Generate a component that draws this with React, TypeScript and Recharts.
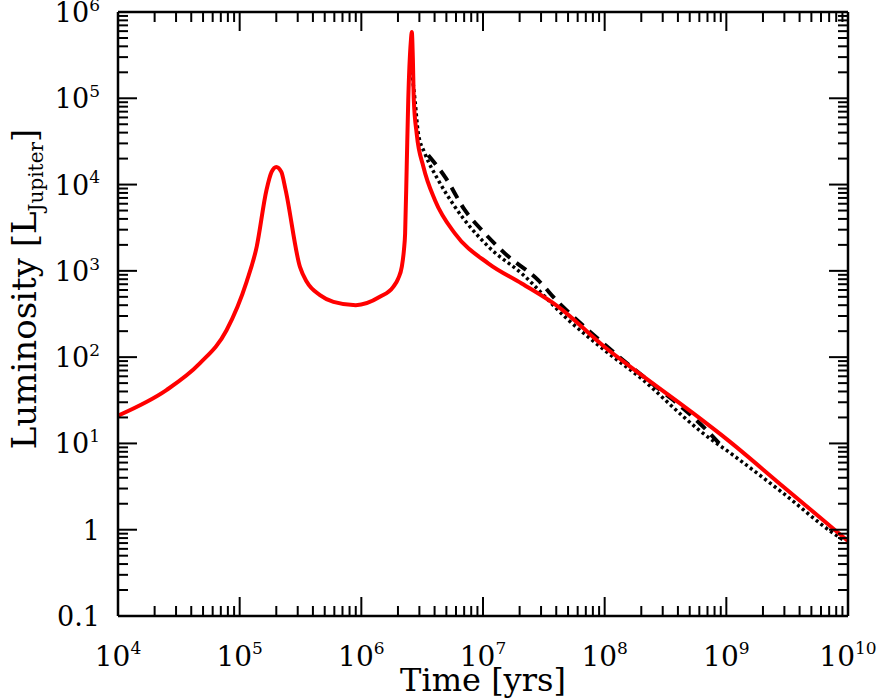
import React from 'react';
import { LineChart, Line, XAxis, YAxis } from 'recharts';

type Pt = { t: number; L: number };

// red: full evolution track
const redTime = [
  1e4, 2.5e4, 4.7e4, 7.8e4, 1.14e5, 1.38e5, 1.66e5, 1.83e5, 2.0e5, 2.2e5, 2.38e5,
  3.13e5, 3.56e5, 4.57e5, 5.9e5, 9.0e5, 1.42e6, 1.83e6, 2.01e6, 2.15e6, 2.24e6,
  2.29e6, 2.36e6, 2.43e6, 2.55e6, 2.6e6, 2.65e6, 2.7e6, 2.85e6, 3.24e6, 4.03e6, 5.89e6,
  1.11e7, 2.08e7, 4.17e7, 1e8, 1.95e8, 6.07e8, 1e9, 2.94e9, 1e10,
];
const redLum = [
  21, 41.5, 84.5, 205, 746, 1900, 8600, 14000, 16000, 14000, 8800,
  1110, 746, 523, 437, 400, 500, 653, 817, 1110, 1750,
  2700, 16000, 95000, 450000, 586000, 300000, 95000, 39000, 16000, 6600, 2700,
  1215, 714, 383, 131, 64, 19.5, 11.3, 3.15, 0.74,
];

// dashed black
const dashTime = [3.55e6, 4.87e6, 7.1e6, 1.04e7, 1.52e7, 2.84e7, 4.17e7, 5.19e7, 7.6e7, 1.42e8, 2.67e8, 3.66e8, 6.88e8, 9.44e8];
const dashLum = [21900, 12300, 5050, 2700, 1585, 780, 430, 320, 196, 92, 45, 31.8, 14.3, 8.9];

// dotted black
const dotTime = [2.6e6, 2.76e6, 2.94e6, 3.33e6, 4.3e6, 5.89e6, 1.11e7, 2.08e7, 4.87e7, 1e8, 2.08e8, 4.44e8, 6.07e8, 1.14e9, 2.94e9, 7.57e9, 9.3e9];
const dotLum = [204000, 95000, 39000, 23000, 11200, 5500, 1900, 933, 281, 120, 54, 20.4, 14, 7.3, 2.64, 0.91, 0.75];

const xMajor = [1e4, 1e5, 1e6, 1e7, 1e8, 1e9, 1e10];
const yMajor = [0.1, 1, 10, 100, 1e3, 1e4, 1e5, 1e6];
const yMajorLabels = ['0.1', '1', '10|1', '10|2', '10|3', '10|4', '10|5', '10|6'];
const minorSteps = [2, 3, 4, 5, 6, 7, 8, 9];

const zip = (ts: number[], ls: number[]): Pt[] => ts.map((t, i) => ({ t, L: ls[i] }));
const redData = zip(redTime, redLum);
const dashData = zip(dashTime, dashLum);
const dotData = zip(dotTime, dotLum);

const withMinor = (majors: number[]) => {
  const out: number[] = [];
  majors.forEach((m, i) => {
    out.push(m);
    if (i < majors.length - 1) minorSteps.forEach((s) => out.push(+(m * s).toPrecision(6)));
  });
  return out;
};
const xTicks = withMinor(xMajor);
const yTicks = withMinor(yMajor);

const isMajor = (v: number) => Math.abs(Math.log10(v) - Math.round(Math.log10(v))) < 1e-6;

const FONT = '"DejaVu Serif", serif';
const MAJ = 19;
const MIN = 10;

const Power = ({ label, x, y, anchor, size, supSize }: any) => {
  const [base, exp] = label.split('|');
  return (
    <text x={x} y={y} textAnchor={anchor} fontFamily={FONT} fontSize={size} fill="#000">
      {base}
      {exp && (
        <tspan dy={-size * 0.42} fontSize={supSize}>
          {exp}
        </tspan>
      )}
    </text>
  );
};

const XTick = (props: any) => {
  const { x, y, payload, orientation } = props;
  const v = payload.value;
  const len = isMajor(v) ? MAJ : MIN;
  const dir = orientation === 'top' ? 1 : -1;
  return (
    <g>
      <line x1={x} x2={x} y1={y} y2={y + dir * len} stroke="#000" strokeWidth={2} />
      {orientation !== 'top' && isMajor(v) && (
        <Power label={'10|' + Math.round(Math.log10(v))} x={x} y={y + 50} anchor="middle" size={28} supSize={17} />
      )}
    </g>
  );
};

const YTick = (props: any) => {
  const { x, y, payload, orientation } = props;
  const v = payload.value;
  const len = isMajor(v) ? MAJ : MIN;
  const dir = orientation === 'right' ? -1 : 1;
  const idx = yMajor.findIndex((m) => Math.abs(Math.log10(m) - Math.log10(v)) < 1e-6);
  return (
    <g>
      <line x1={x} x2={x + dir * len} y1={y} y2={y} stroke="#000" strokeWidth={2} />
      {orientation !== 'right' && idx >= 0 && (
        <Power label={yMajorLabels[idx]} x={x - 18} y={y + 10} anchor="end" size={27} supSize={17} />
      )}
    </g>
  );
};

const XTitle = ({ viewBox }: any) => (
  <text x={viewBox.x + viewBox.width / 2} y={viewBox.y + 75} textAnchor="middle" fontFamily={FONT} fontSize={32} fill="#000">
    Time [yrs]
  </text>
);

const YTitle = ({ viewBox }: any) => {
  const cx = 36;
  const cy = viewBox.y + 277;
  return (
    <text transform={`translate(${cx},${cy}) rotate(-90)`} textAnchor="middle" fontFamily={FONT} fontSize={34} fill="#000">
      Luminosity [L
      <tspan dy={7} fontSize={20}>Jupiter</tspan>
      <tspan dy={-7}>]</tspan>
    </text>
  );
};

const axisLine = { stroke: '#000', strokeWidth: 2.5 };

export default function App() {
  return (
    <div style={{ position: 'absolute', left: 0, top: 0, background: '#fff' }}>
      <LineChart width={878} height={700} margin={{ top: 0, right: 0, bottom: 0, left: 0 }}>
        <XAxis
          xAxisId="b"
          dataKey="t"
          type="number"
          scale="log"
          domain={[1e4, 1e10]}
          allowDataOverflow
          ticks={xTicks}
          interval={0}
          tickSize={0}
          tickMargin={0}
          tickLine={false}
          axisLine={axisLine}
          tick={(p: any) => <XTick {...p} orientation="bottom" />}
          height={84}
          orientation="bottom"
          label={{ content: (p: any) => <XTitle {...p} /> }}
        />
        <XAxis
          xAxisId="t"
          dataKey="t"
          type="number"
          scale="log"
          domain={[1e4, 1e10]}
          allowDataOverflow
          ticks={xTicks}
          interval={0}
          tickSize={0}
          tickMargin={0}
          tickLine={false}
          axisLine={axisLine}
          tick={(p: any) => <XTick {...p} orientation="top" />}
          height={12}
          orientation="top"
        />
        <YAxis
          yAxisId="l"
          dataKey="L"
          type="number"
          scale="log"
          domain={[0.1, 1e6]}
          allowDataOverflow
          ticks={yTicks}
          interval={0}
          tickSize={0}
          tickMargin={0}
          tickLine={false}
          axisLine={axisLine}
          tick={(p: any) => <YTick {...p} orientation="left" />}
          width={118}
          orientation="left"
          label={{ content: (p: any) => <YTitle {...p} /> }}
        />
        <YAxis
          yAxisId="r"
          dataKey="L"
          type="number"
          scale="log"
          domain={[0.1, 1e6]}
          allowDataOverflow
          ticks={yTicks}
          interval={0}
          tickSize={0}
          tickMargin={0}
          tickLine={false}
          axisLine={axisLine}
          tick={(p: any) => <YTick {...p} orientation="right" />}
          width={30}
          orientation="right"
        />
        <Line
          xAxisId="b"
          yAxisId="l"
          data={dotData}
          dataKey="L"
          type="monotone"
          stroke="#000"
          strokeWidth={3.5}
          strokeDasharray="3 3"
          dot={false}
          isAnimationActive={false}
        />
        <Line
          xAxisId="b"
          yAxisId="l"
          data={dashData}
          dataKey="L"
          type="monotone"
          stroke="#000"
          strokeWidth={4}
          strokeDasharray="12 8"
          dot={false}
          isAnimationActive={false}
        />
        <Line
          xAxisId="b"
          yAxisId="l"
          data={redData}
          dataKey="L"
          type="monotone"
          stroke="#ff0000"
          strokeWidth={4}
          strokeLinejoin="round"
          dot={false}
          isAnimationActive={false}
        />
      </LineChart>
    </div>
  );
}
